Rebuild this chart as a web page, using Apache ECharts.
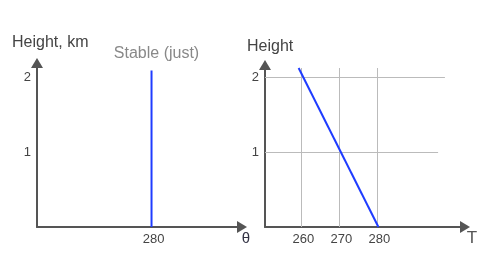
<!DOCTYPE html>
<html><head><meta charset="utf-8">
<script src="https://cdn.jsdelivr.net/npm/echarts@6/dist/echarts.min.js"></script>
<style>html,body{margin:0;padding:0;background:#fff}#c{width:494px;height:266px}</style>
</head><body><div id="c"></div>
<script>
// ---- data ----
const yTickLabels = [1, 2];
const leftXTickLabels = [280];
const rightXTickLabels = [260, 270, 280];
const stableTheta = [280, 280];
const stableHeight = [0, 2.09];
const tempT = [259.3, 280.3];
const tempHeight = [2.12, 0];
const gridT = [260, 270, 280];
const gridTTop = 2.12;
const gridH = [1, 2];
const gridHEnd = [296, 297.8];

const FONT = 'Liberation Sans, Arial, sans-serif';
const axisCol = '#555';
const chart = echarts.init(document.getElementById('c'), null, {renderer: 'canvas'});

function yAxisCfg(idx, max) {
  return {
    type: 'value', gridIndex: idx, min: 0, max: max, interval: 1,
    axisLine: {show: true, symbol: ['none', 'triangle'], symbolSize: [12, 10], lineStyle: {color: axisCol, width: 2}},
    axisTick: {show: false}, splitLine: {show: false},
    axisLabel: {margin: 6, fontSize: 13, fontFamily: FONT, color: '#444',
      formatter: v => yTickLabels.includes(v) ? String(v) : ''}
  };
}
function xAxisCfg(idx, min, max, ticks, interval) {
  const c = {
    type: 'value', gridIndex: idx, min: min, max: max,
    axisLine: {show: true, symbol: ['none', 'triangle'], symbolSize: [12, 10], lineStyle: {color: axisCol, width: 2}},
    axisTick: {show: false}, splitLine: {show: false},
    axisLabel: {margin: 6, fontSize: 13, fontFamily: FONT, color: '#444', padding: [0, 0, 0, 4],
      formatter: v => ticks.includes(Math.round(v * 1000) / 1000) ? String(v) : ''}
  };
  if (interval) c.interval = interval;
  return c;
}

const markData = [];
gridT.forEach(t => markData.push([{coord: [t, 0]}, {coord: [t, gridTTop]}]));
gridH.forEach((h, i) => markData.push([{coord: [250.45, h]}, {coord: [gridHEnd[i], h]}]));

chart.setOption({
  animation: false,
  grid: [
    {left: 37, right: 252, top: 63, bottom: 39},
    {left: 265, right: 29, top: 65, bottom: 39}
  ],
  xAxis: [
    xAxisCfg(0, 250, 303.7, leftXTickLabels, 10),
    xAxisCfg(1, 250.45, 303.08, rightXTickLabels, null)
  ],
  yAxis: [yAxisCfg(0, 2.19), yAxisCfg(1, 2.16)],
  series: [
    {type: 'line', xAxisIndex: 0, yAxisIndex: 0, data: stableTheta.map((t, i) => [t, stableHeight[i]]),
      showSymbol: false, symbol: 'none', lineStyle: {color: '#1f3cff', width: 2}, z: 5},
    {type: 'line', xAxisIndex: 1, yAxisIndex: 1, data: [], z: 1,
      markLine: {silent: true, symbol: ['none', 'none'], label: {show: false},
        lineStyle: {type: 'solid', color: '#bbb', width: 1}, emphasis: {disabled: true}, data: markData}},
    {type: 'line', xAxisIndex: 1, yAxisIndex: 1, data: tempT.map((t, i) => [t, tempHeight[i]]),
      showSymbol: false, symbol: 'none', lineStyle: {color: '#1f3cff', width: 2}, z: 5}
  ],
  graphic: [
    {type: 'text', x: 12, y: 43, style: {text: 'Height, km', font: '16px ' + FONT, fill: '#444', align: 'left', verticalAlign: 'middle'}},
    {type: 'text', x: 156.5, y: 54, style: {text: 'Stable (just)', font: '16px ' + FONT, fill: '#888', align: 'center', verticalAlign: 'middle'}},
    {type: 'text', x: 247, y: 47, style: {text: 'Height', font: '16px ' + FONT, fill: '#444', align: 'left', verticalAlign: 'middle'}},
    {type: 'text', x: 246, y: 239, style: {text: 'θ', font: '15px ' + FONT, fill: '#334', align: 'center', verticalAlign: 'middle'}},
    {type: 'text', x: 472, y: 238, style: {text: 'T', font: '17px ' + FONT, fill: '#555', align: 'center', verticalAlign: 'middle'}}
  ]
});
</script>
</body></html>
